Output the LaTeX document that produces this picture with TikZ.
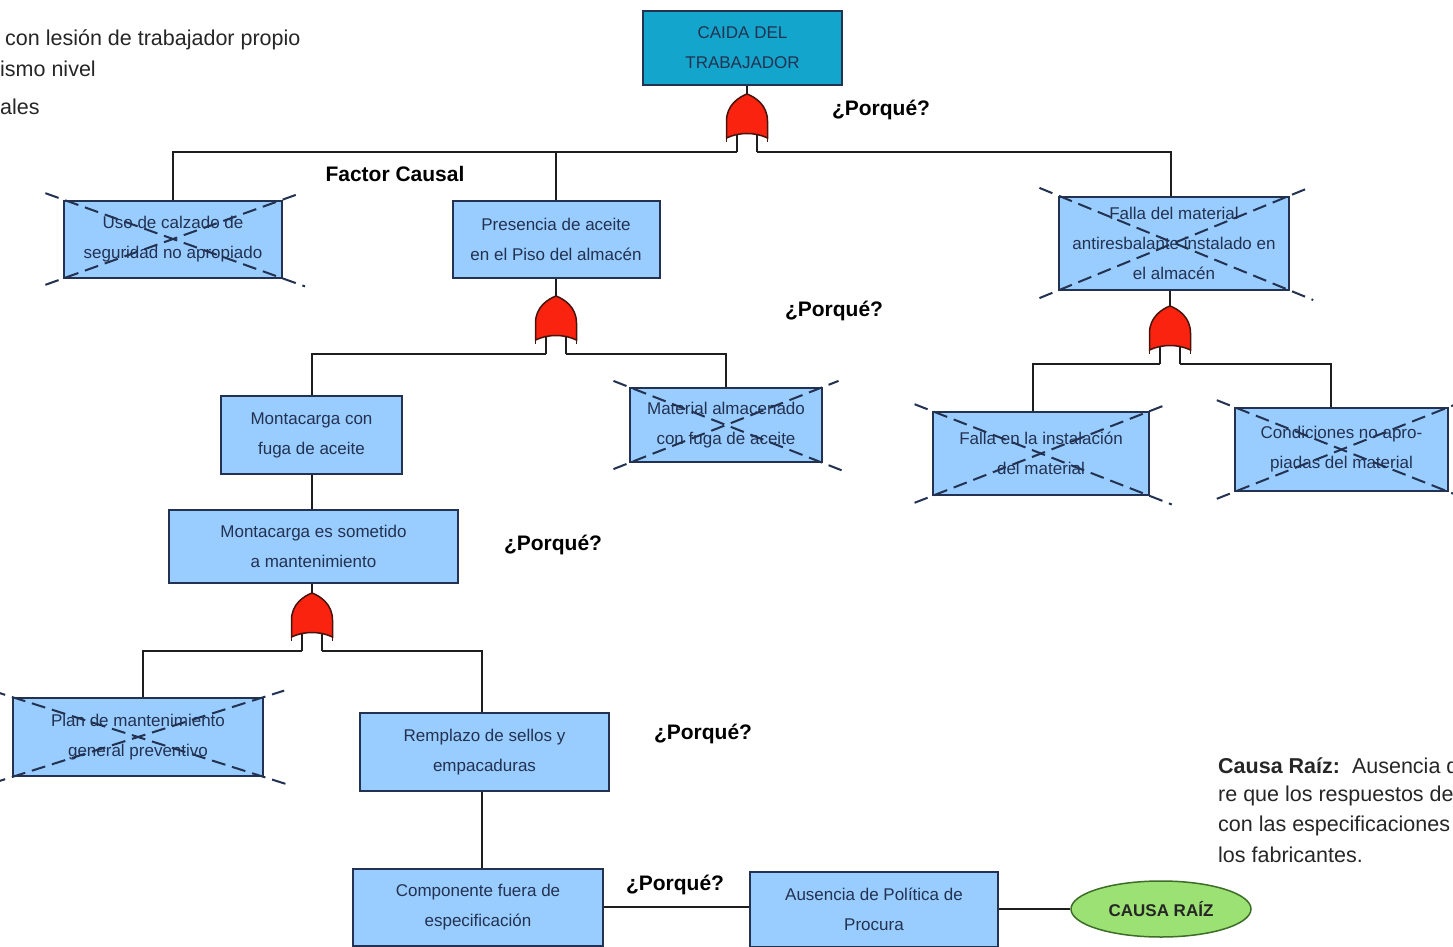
\documentclass[tikz,border=0pt]{standalone}
\usepackage{fontspec}
\setmainfont{Liberation Sans}
\usetikzlibrary{calc,shapes.geometric}

\definecolor{boxfill}{RGB}{153,204,255}
\definecolor{topfill}{RGB}{20,165,205}
\definecolor{boxedge}{RGB}{35,50,80}
\definecolor{boxtext}{RGB}{35,50,80}
\definecolor{linecol}{RGB}{30,30,30}
\definecolor{gatered}{RGB}{250,35,15}
\definecolor{gateedge}{RGB}{70,20,10}
\definecolor{rootfill}{RGB}{155,225,115}
\definecolor{rootedge}{RGB}{60,110,40}

\tikzset{
  evbox/.style={draw=boxedge, line width=2pt, fill=boxfill, text=boxtext,
    align=center, inner sep=0pt, font=\fontsize{17}{30}\selectfont},
  link/.style={draw=linecol, line width=2pt},
  xmark/.style={draw=boxedge, line width=2pt, dash pattern=on 14pt off 7pt},
  why/.style={font=\fontsize{21}{25}\selectfont\bfseries, text=black},
  note/.style={font=\fontsize{21.5}{29}\selectfont, text=black!85, anchor=west, inner sep=0pt},
  pics/orgate/.style={code={
    \draw[link] (-10,39) -- (-10,58);
    \draw[link] (10,39) -- (10,58);
    \filldraw[fill=gatered, draw=gateedge, line width=1.5pt]
      (-20.5,44) -- (-20.5,27) .. controls (-20.5,11) and (-8,3) .. (0,0)
      .. controls (8,3) and (20.5,11) .. (20.5,27) -- (20.5,44)
      .. controls (8,38) and (-8,38) .. cycle;
    \draw[gateedge, line width=1.5pt] (-20.5,44) -- (-20.5,48) (20.5,44) -- (20.5,48);
    \coordinate (-top) at (0,0);
    \coordinate (-l) at (-10,58);
    \coordinate (-r) at (10,58);
  }}
}

% dashed cross over an event that has been ruled out
\newcommand\ruleout[1]{%
  \draw[xmark] ($(#1.north west)!-0.08!(#1.south east)$) -- ($(#1.north west)!1.1!(#1.south east)$);
  \draw[xmark] ($(#1.south west)!-0.08!(#1.north east)$) -- ($(#1.south west)!1.08!(#1.north east)$);}

\begin{document}
\begin{tikzpicture}[x=1pt, y=-1pt]
  \fill[white] (0,0) rectangle (1453,947);
  \clip (0,0) rectangle (1453,947);

  % side notes
  \node[note] (n1) at (5,40) {con lesión de trabajador propio};
  \node[note] (n2) at (0,69) {ismo nivel};
  \node[note] (n3) at (0,107) {ales};

  \node[note] (r1) at (1218,766) {\textbf{Causa Raíz:}\ \ Ausencia de};
  \node[note] (r2) at (1218,796) {re que los respuestos de};
  \node[note] (r3) at (1218,826) {con las especificaciones};
  \node[note] (r4) at (1218,855) {los fabricantes.};

  % events
  \node[evbox, fill=topfill, minimum width=199pt, minimum height=74pt] (top) at (742.5,48) {CAIDA DEL\\TRABAJADOR};

  \node[evbox, minimum width=218pt, minimum height=77pt] (b1) at (173,239) {Uso de calzado de\\seguridad no apropiado};
  \node[evbox, minimum width=207pt, minimum height=77pt] (b2) at (556,239) {Presencia de aceite\\en el Piso del almacén};
  \node[evbox, minimum width=230pt, minimum height=93pt] (b3) at (1174,243) {Falla del material\\antiresbalante instalado en\\el almacén};

  \node[evbox, minimum width=181pt, minimum height=78pt] (b4) at (311.5,435) {Montacarga con\\fuga de aceite};
  \node[evbox, minimum width=192pt, minimum height=74pt] (b5) at (726,425) {Material almacenado\\con fuga de aceite};
  \node[evbox, minimum width=216pt, minimum height=83pt] (b6) at (1041,453.5) {Falla en la instalación\\del material};
  \node[evbox, minimum width=213pt, minimum height=83pt] (b7) at (1341.5,449.5) {Condiciones no apro-\\piadas del material};

  \node[evbox, minimum width=289pt, minimum height=73pt] (b8) at (313.5,546.5) {Montacarga es sometido\\a mantenimiento};

  \node[evbox, minimum width=250pt, minimum height=78pt] (b9) at (138,737) {Plan de mantenimiento\\general preventivo};
  \node[evbox, minimum width=249pt, minimum height=78pt] (b10) at (484.5,752) {Remplazo de sellos y\\empacaduras};
  \node[evbox, minimum width=250pt, minimum height=77pt] (b11) at (478,907) {Componente fuera de\\especificación};
  \node[evbox, minimum width=248pt, minimum height=75pt] (b12) at (874,909) {Ausencia de Política de\\Procura};

  \node[ellipse, draw=rootedge, line width=1.5pt, fill=rootfill, minimum width=180pt, minimum height=56pt,
        inner sep=0pt, font=\fontsize{17}{20}\selectfont\bfseries, text=black!85] (root) at (1161,909) {CAUSA RAÍZ};

  % gates
  \pic (g1) at (747,94) {orgate};
  \pic (g2) at (556,296) {orgate};
  \pic (g3) at (1170,306) {orgate};
  \pic (g4) at (312,593) {orgate};

  % labels
  \node[why] (w1) at (881,110) {¿Porqué?};
  \node[why] (w2) at (834,311) {¿Porqué?};
  \node[why] (w3) at (553,545) {¿Porqué?};
  \node[why] (w4) at (703,734) {¿Porqué?};
  \node[why] (w5) at (675,885) {¿Porqué?};
  \node[why] (fc) at (395,174) {Factor Causal};

  % connectors
  \draw[link] (top.south -| g1-top) -- (g1-top);
  \draw[link] (g1-l) -| (b1.north);
  \draw[link] (g1-r) -| ($(b3.north)+(-3,0)$);
  \draw[link] (b2.north) -- (b2.north |- g1-r);

  \draw[link] (b2.south) -- (g2-top);
  \draw[link] (g2-l) -| (b4.north);
  \draw[link] (g2-r) -| (b5.north);

  \draw[link] (b3.south -| g3-top) -- (g3-top);
  \draw[link] (g3-l) -| ($(b6.north)+(-8,0)$);
  \draw[link] (g3-r) -| ($(b7.north)+(-11,0)$);

  \draw[link] (b4.south) -- (b4.south |- b8.north);
  \draw[link] (b8.south -| g4-top) -- (g4-top);
  \draw[link] (g4-l) -| ($(b9.north)+(5,0)$);
  \draw[link] (g4-r) -| ($(b10.north)+(-2.5,0)$);

  \draw[link] ($(b10.south)+(-2.5,0)$) -- ($(b10.south |- b11.north)+(-2.5,0)$);
  \draw[link] (b11.east) -- (b11.east -| b12.west);
  \draw[link] (b12.east) -- (root.west);

  % ruled-out events
  \ruleout{b1}
  \ruleout{b3}
  \ruleout{b5}
  \ruleout{b6}
  \ruleout{b7}
  \ruleout{b9}
\end{tikzpicture}
\end{document}
